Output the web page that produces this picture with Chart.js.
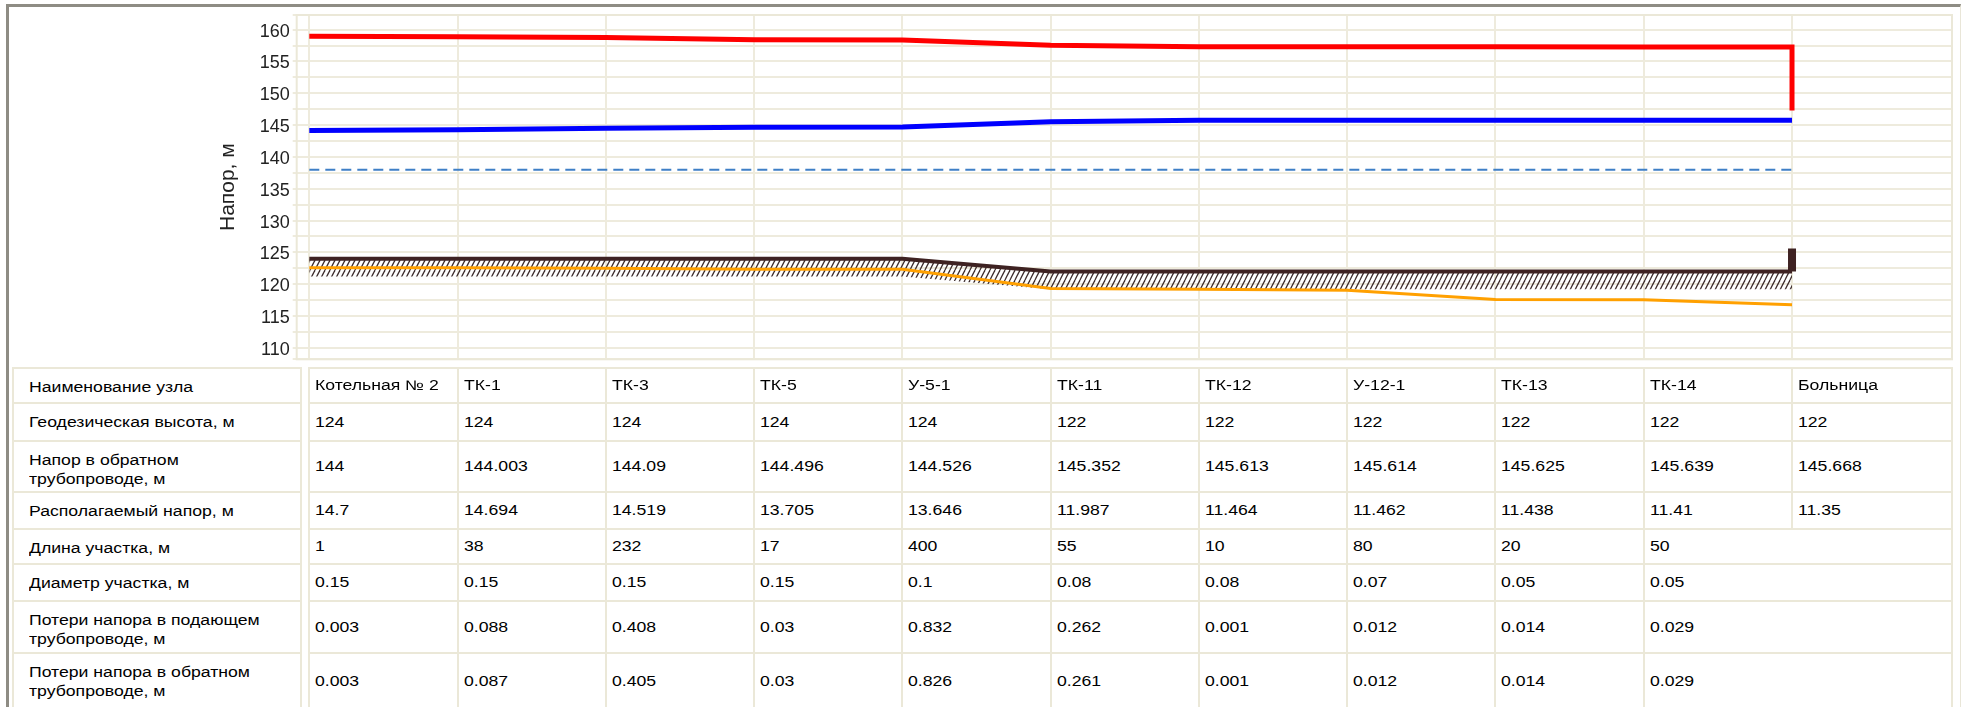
<!DOCTYPE html>
<html><head><meta charset="utf-8">
<script src="https://cdn.jsdelivr.net/npm/chart.js@4/dist/chart.umd.min.js"></script>
<style>
html,body{margin:0;padding:0;background:#fff;width:1962px;height:707px;overflow:hidden;}
#frame{position:absolute;left:6px;top:4px;width:1955px;height:720px;border-top:3px solid #8e8c84;border-left:3px solid #8e8c84;border-right:1px solid #e9e6d8;box-sizing:border-box;pointer-events:none;z-index:5}
#wrap{position:absolute;left:0;top:0;width:1962px;height:385px;}
#tbl{position:absolute;left:0;top:0;width:1962px;height:707px;}
.cell{position:absolute;box-sizing:border-box;border:2px solid #ebe8d8;font:14px "Liberation Sans",Arial,sans-serif;color:#000;overflow:hidden;white-space:nowrap;background:#fff;}
.cell.d{display:flex;align-items:center;padding-left:5px;}
.cell.l{padding-left:15px;padding-top:9px;}
.cell span{display:inline-block;transform:scaleX(1.26);transform-origin:0 50%;line-height:19px;}
</style></head>
<body>
<div id="wrap"><canvas id="c"></canvas></div>
<div id="tbl"></div>
<div id="frame"></div>
<script>
// ---- data ----
const categories = ['Котельная № 2','ТК-1','ТК-3','ТК-5','У-5-1','ТК-11','ТК-12','У-12-1','ТК-13','ТК-14','Больница'];
const geodesic = [124,124,124,124,124,122,122,122,122,122,122];
const returnHeadTable = [144,144.003,144.09,144.496,144.526,145.352,145.613,145.614,145.625,145.639,145.668];
const availHead = [14.7,14.694,14.519,13.705,13.646,11.987,11.464,11.462,11.438,11.41,11.35];
const segLength = [1,38,232,17,400,55,10,80,20,50];
const segDiameter = [0.15,0.15,0.15,0.15,0.1,0.08,0.08,0.07,0.05,0.05];
const lossSupply = [0.003,0.088,0.408,0.03,0.832,0.262,0.001,0.012,0.014,0.029];
const lossReturn = [0.003,0.087,0.405,0.03,0.826,0.261,0.001,0.012,0.014,0.029];
const rowLabels = ['Наименование узла','Геодезическая высота, м','Напор в обратном<br>трубопроводе, м','Располагаемый напор, м','Длина участка, м','Диаметр участка, м','Потери напора в подающем<br>трубопроводе, м','Потери напора в обратном<br>трубопроводе, м'];

// lines
const supplyLine = [158.95,158.9,158.75,158.4,158.37,157.55,157.32,157.3,157.3,157.28,157.27];
const supplyEnd = 147.3;
const returnLine = [144.14,144.25,144.5,144.66,144.7,145.52,145.76,145.76,145.77,145.78,145.78];
const staticHead = 138;
const orangeLine = [122.6,122.6,122.5,122.35,122.33,119.33,119.22,119.05,117.6,117.55,116.78];
const hatchBottom = [121.2,121.2,121.2,121.2,121.2,119.2,119.2,119.2,119.2,119.2,119.2];
const endBar = [122,125.6];
const yGrid = [108.2,110,112.5,115,117.5,120,122.5,125,127.5,130,132.5,135,137.5,140,142.5,145,147.5,150,152.5,155,157.5,160,162.3];
const yLabels = [110,115,120,125,130,135,140,145,150,155,160];

// ---- chart ----
function makeHatch(){
  const c=document.createElement('canvas'); c.width=5; c.height=10;
  const g=c.getContext('2d'); g.strokeStyle='#3b2a2a'; g.lineWidth=1.25;
  for(let k=-1;k<=1;k++){ g.beginPath(); g.moveTo(k*5,10); g.lineTo(k*5+5,0); g.stroke(); }
  return g.createPattern(c,'repeat');
}
const pts = arr => arr.map((v,i)=>({x:i,y:v}));
const last = categories.length-1;
const framePlugin = {id:'frame', beforeDatasetsDraw(chart){
  const {ctx, chartArea:a} = chart; ctx.save(); ctx.strokeStyle='#ebe8d8'; ctx.lineWidth=2;
  ctx.strokeRect(a.left, a.top, a.right-a.left, a.bottom-a.top); ctx.restore(); }};
const gridCol = '#eeebdd';
const target = {left:296.7, top:15, right:1952, bottom:359.3};
const chart = new Chart(document.getElementById('c'), {
  type:'line',
  data:{datasets:[
    {label:'Напор в подающем трубопроводе', data:[...pts(supplyLine), {x:last,y:supplyEnd}], borderColor:'#ff0000', borderWidth:5},
    {label:'Напор в обратном трубопроводе', data:pts(returnLine), borderColor:'#0000ff', borderWidth:5},
    {label:'Статический напор', data:[{x:0,y:staticHead},{x:last,y:staticHead}], borderColor:'#3f7fc6', borderWidth:2, borderDash:[10,6]},
    {label:'Ось трубопровода', data:pts(orangeLine), borderColor:'#ffa000', borderWidth:3},
    {label:'Геодезическая высота', data:pts(geodesic), borderColor:'#3e2222', borderWidth:4, fill:{target:6}, backgroundColor:makeHatch()},
    {label:'Потребитель', data:[{x:last,y:endBar[0]},{x:last,y:endBar[1]}], borderColor:'#3e2222', borderWidth:8},
    {label:'низ', data:pts(hatchBottom), borderWidth:0, borderColor:'transparent'}
  ]},
  options:{
    animation:false, responsive:true, maintainAspectRatio:false, devicePixelRatio:1, events:[],
    elements:{point:{radius:0,hoverRadius:0}, line:{tension:0,borderJoinStyle:'miter',borderCapStyle:'butt'}},
    layout:{padding:{left:200, top:15, right:10, bottom:20}},
    plugins:{legend:{display:false}, tooltip:{enabled:false}},
    scales:{
      x:{type:'linear', min:-0.085, max:11.079,
         ticks:{display:false, autoSkip:false}, grid:{color:gridCol, lineWidth:2, drawTicks:false}, border:{display:false},
         afterBuildTicks:s=>{ s.ticks = categories.map((_,i)=>({value:i})); },
         afterFit:s=>{ s.height = 0; }},
      y:{type:'linear', min:108.2, max:162.3,
         ticks:{font:{family:'Liberation Sans', size:18}, color:'#222', padding:3, autoSkip:false, labelOffset:2,
                callback:v=> yLabels.includes(v) ? String(v) : ''},
         grid:{color:gridCol, lineWidth:2, tickLength:4}, border:{display:false},
         title:{display:true, text:'Напор, м', font:{family:'Liberation Sans', size:21}, color:'#222', padding:{top:16,bottom:0}},
         afterBuildTicks:s=>{ s.ticks = yGrid.map(v=>({value:v})); },
         afterFit:s=>{ s.width = 96.7; }}
    }
  },
  plugins:[framePlugin]
});
// layout correction so the plot area lands where the table columns need it
for (let k=0;k<3;k++){
  const a = chart.chartArea, p = chart.options.layout.padding;
  p.top += target.top - a.top;
  p.bottom += a.bottom - target.bottom;
  p.left += target.left - a.left;
  p.right += a.right - target.right;
  chart.update('none');
}

// ---- table aligned with the x scale ----
const xs = chart.scales.x;
const colX = categories.map((_,i)=>xs.getPixelForValue(i));
colX.push(chart.chartArea.right);
const rowTops = [368,403,441,492,529,564,601,653,709];
const rows = [categories, geodesic, returnHeadTable, availHead, segLength, segDiameter, lossSupply, lossReturn];
const tbl = document.getElementById('tbl');
function addCell(cls, L, R, T, B, html){
  const d=document.createElement('div'); d.className='cell '+cls;
  d.style.left=(L-1)+'px'; d.style.top=(T-1)+'px'; d.style.width=(R-L+2)+'px'; d.style.height=(B-T+2)+'px';
  d.innerHTML='<span>'+html+'</span>'; tbl.appendChild(d);
}
rows.forEach((vals,r)=>{
  const T=rowTops[r], B=rowTops[r+1];
  addCell('l', 13, 301, T, B, rowLabels[r]);
  vals.forEach((v,i)=>{
    const R = (i===vals.length-1) ? colX[categories.length] : colX[i+1];
    addCell('d', colX[i], R, T, B, String(v));
  });
});
</script>
</body></html>
